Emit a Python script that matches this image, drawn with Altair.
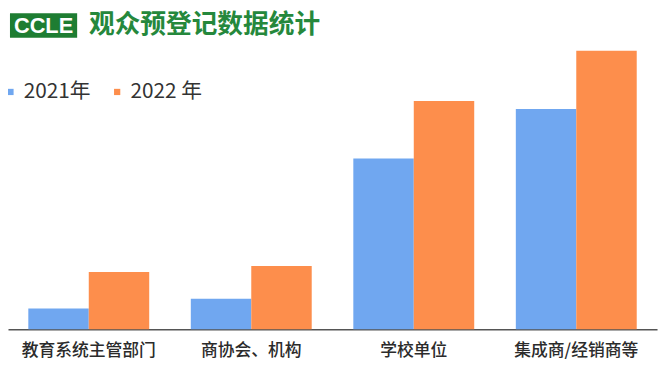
import altair as alt
import pandas as pd

categories = ["教育系统主管部门", "商协会、机构", "学校单位", "集成商/经销商等"]
years = ["2021年", "2022 年"]
values_2021 = [21, 31, 173, 223]
values_2022 = [58, 64, 231, 282]
colors = ["#70A7F0", "#FD8E4C"]

rows = []
for c, a, b in zip(categories, values_2021, values_2022):
    rows.append({"category": c, "year": years[0], "value": a})
    rows.append({"category": c, "year": years[1], "value": b})
df = pd.DataFrame(rows)

W, H = 657, 323
FONT = "Noto Sans CJK SC"

bars = alt.Chart(df).mark_bar().encode(
    x=alt.X("category:N", sort=categories,
            scale=alt.Scale(paddingInner=0.256, paddingOuter=0.125),
            axis=alt.Axis(title=None, labelAngle=0, ticks=False, domainColor="#555555",
                          domainWidth=1.5, labelFontSize=17, labelColor="#2B2B2B",
                          labelFont=FONT, labelFontWeight=500, labelPadding=14, grid=False)),
    xOffset=alt.XOffset("year:N", sort=years, scale=alt.Scale(paddingInner=0, paddingOuter=0)),
    y=alt.Y("value:Q", scale=alt.Scale(domain=[0, H], nice=False), axis=None),
    color=alt.Color("year:N", sort=years,
                    scale=alt.Scale(domain=years, range=colors),
                    legend=alt.Legend(title=None, orient="none", legendX=-8, legendY=72,
                                      direction="horizontal", symbolType="square",
                                      symbolSize=40, symbolStrokeWidth=0, padding=0,
                                      labelFontSize=21, labelFont=FONT, labelColor="#333333",
                                      labelOffset=3, columnPadding=16)),
)

one = alt.Data(values=[{}])
logo = alt.Chart(one).mark_rect(color="#1E7D32").encode(
    x=alt.value(2), x2=alt.value(70), y=alt.value(3), y2=alt.value(28))
logo_text = alt.Chart(one).mark_text(
    text="CCLE", color="white", font="Liberation Sans", fontWeight="bold", fontSize=22,
    align="center", baseline="middle").encode(x=alt.value(36), y=alt.value(16))
title = alt.Chart(one).mark_text(
    text="观众预登记数据统计", color="#25883C", font=FONT, fontWeight="bold", fontSize=26,
    align="left", baseline="middle").encode(x=alt.value(82), y=alt.value(15))

chart = alt.layer(bars, logo, logo_text, title).properties(
    width=W, height=H,
    background="white",
    autosize=alt.AutoSizeParams(type="none"),
    padding={"left": 0, "top": 0, "right": 3, "bottom": 42},
).configure_view(strokeWidth=0, stroke=None)

chart.save("out.html", embed_options={"renderer": "svg", "actions": False})
